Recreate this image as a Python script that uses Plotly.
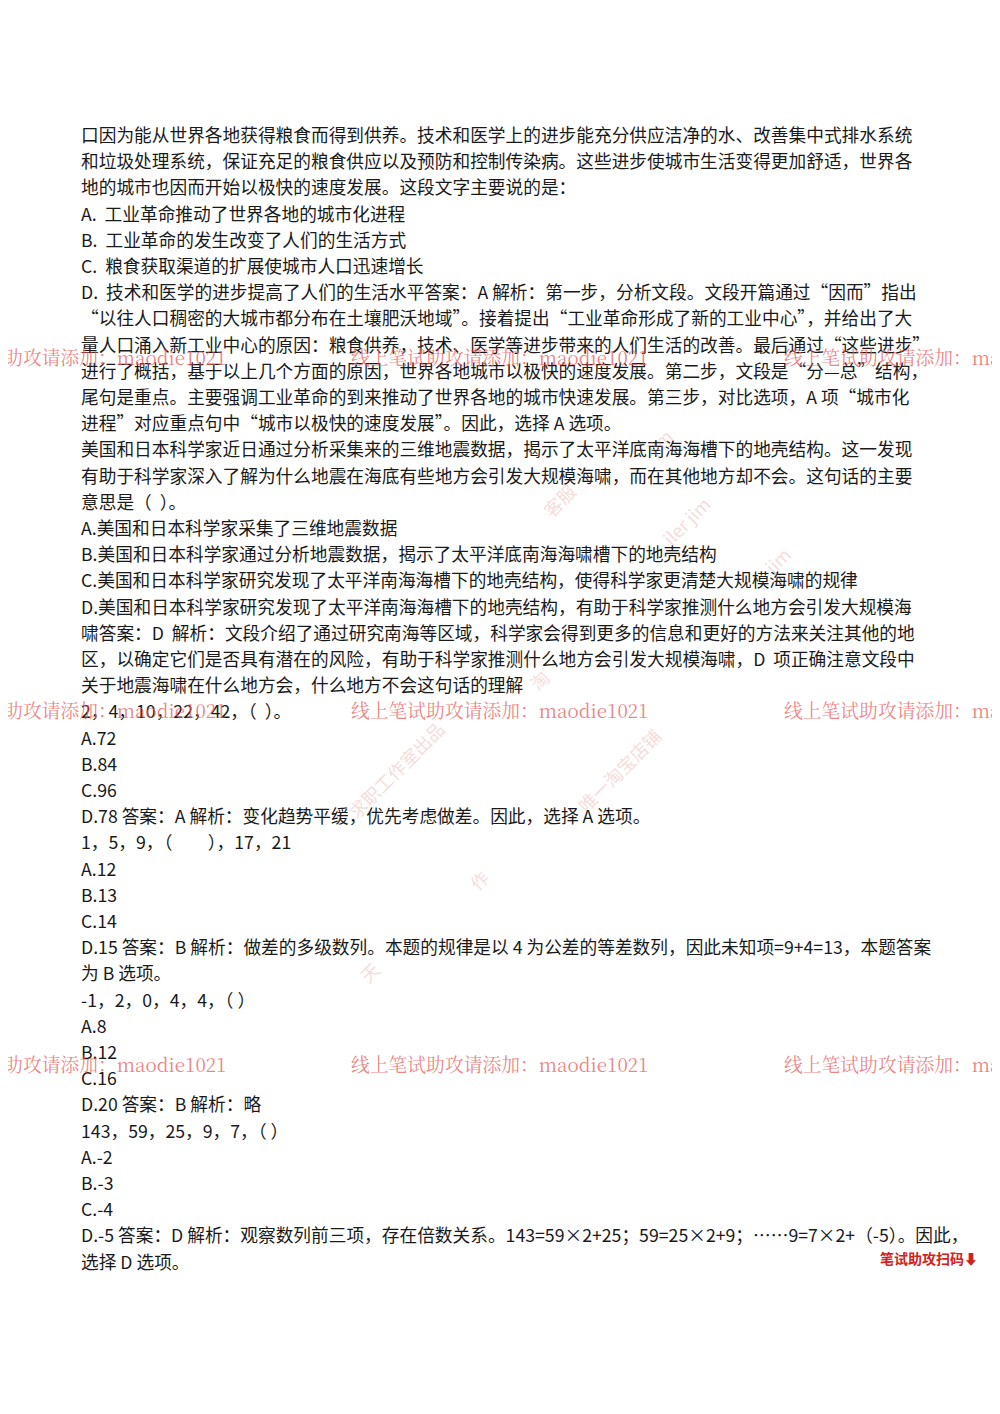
import plotly.graph_objects as go

W, H = 1000, 1414
# the page body adds a default 8px margin; offset positions to compensate
OFFSET_X, OFFSET_Y = -9, -8

# body text lines of the page, top to bottom
LINES = [
    "口因为能从世界各地获得粮食而得到供养。技术和医学上的进步能充分供应洁净的水、改善集中式排水系统",
    "和垃圾处理系统，保证充足的粮食供应以及预防和控制传染病。这些进步使城市生活变得更加舒适，世界各",
    "地的城市也因而开始以极快的速度发展。这段文字主要说的是：",
    "A.  工业革命推动了世界各地的城市化进程",
    "B.  工业革命的发生改变了人们的生活方式",
    "C.  粮食获取渠道的扩展使城市人口迅速增长",
    "D.  技术和医学的进步提高了人们的生活水平答案：A 解析：第一步，分析文段。文段开篇通过“因而”指出",
    "“以往人口稠密的大城市都分布在土壤肥沃地域”。接着提出“工业革命形成了新的工业中心”，并给出了大",
    "量人口涌入新工业中心的原因：粮食供养，技术、医学等进步带来的人们生活的改善。最后通过“这些进步”",
    "进行了概括，基于以上几个方面的原因，世界各地城市以极快的速度发展。第二步，文段是“分—总”结构，",
    "尾句是重点。主要强调工业革命的到来推动了世界各地的城市快速发展。第三步，对比选项，A 项“城市化",
    "进程”对应重点句中“城市以极快的速度发展”。因此，选择 A 选项。",
    "美国和日本科学家近日通过分析采集来的三维地震数据，揭示了太平洋底南海海槽下的地壳结构。这一发现",
    "有助于科学家深入了解为什么地震在海底有些地方会引发大规模海啸，而在其他地方却不会。这句话的主要",
    "意思是（  ）。",
    "A.美国和日本科学家采集了三维地震数据",
    "B.美国和日本科学家通过分析地震数据，揭示了太平洋底南海海啸槽下的地壳结构",
    "C.美国和日本科学家研究发现了太平洋南海海槽下的地壳结构，使得科学家更清楚大规模海啸的规律",
    "D.美国和日本科学家研究发现了太平洋南海海槽下的地壳结构，有助于科学家推测什么地方会引发大规模海",
    "啸答案：D  解析：文段介绍了通过研究南海等区域，科学家会得到更多的信息和更好的方法来关注其他的地",
    "区，以确定它们是否具有潜在的风险，有助于科学家推测什么地方会引发大规模海啸，D  项正确注意文段中",
    "关于地震海啸在什么地方会，什么地方不会这句话的理解",
    "2，4，10，22，42，（  ）。",
    "A.72",
    "B.84",
    "C.96",
    "D.78 答案：A 解析：变化趋势平缓，优先考虑做差。因此，选择 A 选项。",
    "1，5，9，（　　），17，21",
    "A.12",
    "B.13",
    "C.14",
    "D.15 答案：B 解析：做差的多级数列。本题的规律是以 4 为公差的等差数列，因此未知项=9+4=13，本题答案",
    "为 B 选项。",
    "-1，2，0，4，4，（ ）",
    "A.8",
    "B.12",
    "C.16",
    "D.20 答案：B 解析：略",
    "143，59，25，9，7，（ ）",
    "A.-2",
    "B.-3",
    "C.-4",
    "D.-5 答案：D 解析：观察数列前三项，存在倍数关系。143=59×2+25；59=25×2+9；……9=7×2+（-5）。因此，",
    "选择 D 选项。",
]
FIRST_LINE_Y = 134
LINE_STEP = 26.2

WATERMARK = "线上笔试助攻请添加：maodie1021"
WATERMARK_ROWS = [356, 710, 1063]
WATERMARK_COLS = [-72, 350, 783]

DIAGONAL_MARKS = [
    ("求职工作室出品", 340, 770),
    ("唯一淘宝店铺", 620, 770),
    ("客服", 560, 500),
    ("jim", 660, 420),
    ("iler jim", 720, 520),
    ("jim", 800, 560),
    ("作", 480, 880),
    ("天", 370, 990),
    ("淘", 540, 680),
]


def px(x, y):
    return (x + OFFSET_X) / W, 1 - (y + OFFSET_Y) / H


fig = go.Figure()
annotations = []
for i, line in enumerate(LINES):
    x, y = px(80, FIRST_LINE_Y + i * LINE_STEP)
    annotations.append(dict(
        text=line, x=x, y=y, xref="paper", yref="paper", showarrow=False,
        xanchor="left", yanchor="middle",
        font=dict(family="Noto Sans CJK SC", size=17.7, color="#1a1a1a"),
    ))

for row in WATERMARK_ROWS:
    for col in WATERMARK_COLS:
        x, y = px(col, row)
        annotations.append(dict(
            text=WATERMARK, x=x, y=y, xref="paper", yref="paper", showarrow=False,
            xanchor="left", yanchor="middle",
            font=dict(family="Noto Serif CJK SC, DejaVu Serif, serif", size=18.8,
                      color="rgba(235,90,90,0.75)"),
        ))

for text, cx, cy in DIAGONAL_MARKS:
    x, y = px(cx, cy)
    annotations.append(dict(
        text=text, x=x, y=y, xref="paper", yref="paper", showarrow=False,
        textangle=-45,
        font=dict(family="Noto Sans CJK SC", size=18, color="rgba(230,150,150,0.35)"),
    ))

x, y = px(930, 1258)
annotations.append(dict(
    text="<b>笔试助攻扫码⬇</b>", x=x, y=y, xref="paper", yref="paper",
    showarrow=False, xanchor="center", yanchor="middle",
    font=dict(family="Noto Sans CJK SC", size=14, color="#d42020"),
))

fig.update_layout(
    width=W, height=H, margin=dict(l=0, r=0, t=0, b=0),
    paper_bgcolor="white", plot_bgcolor="white",
    xaxis=dict(visible=False, range=[0, 1]),
    yaxis=dict(visible=False, range=[0, 1]),
    annotations=annotations,
    showlegend=False,
)
fig.write_html("out.html")
